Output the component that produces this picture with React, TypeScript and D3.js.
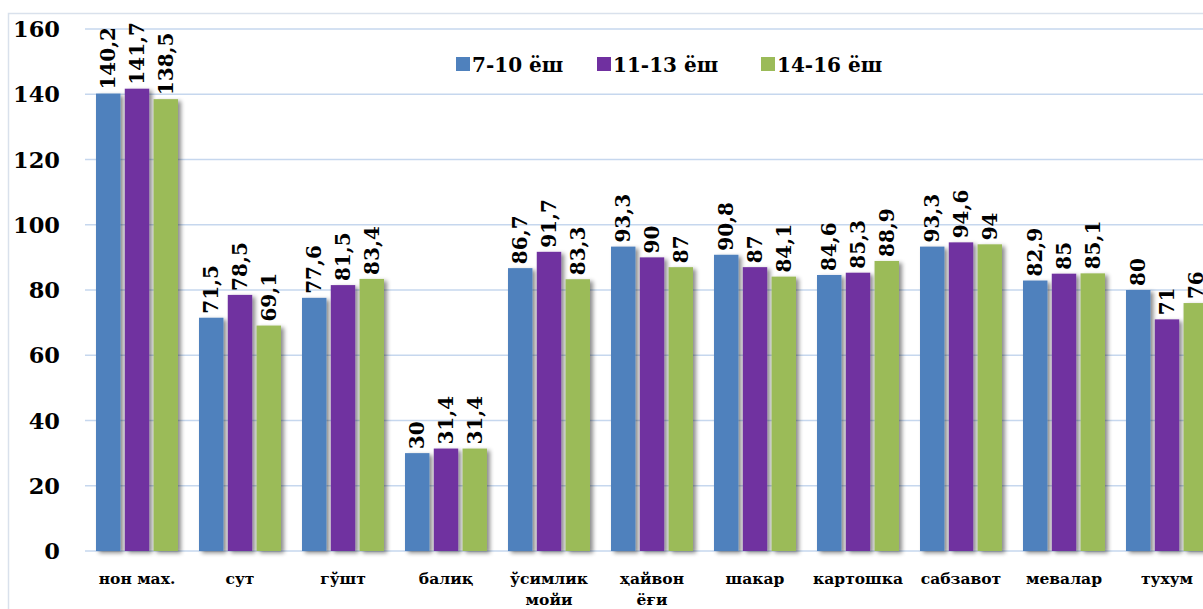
import * as d3 from 'd3';

const categories = [
  ['нон мах.'],
  ['сут'],
  ['гўшт'],
  ['балиқ'],
  ['ўсимлик', 'мойи'],
  ['ҳайвон', 'ёғи'],
  ['шакар'],
  ['картошка'],
  ['сабзавот'],
  ['мевалар'],
  ['тухум'],
];
const seriesNames = ['7-10 ёш', '11-13 ёш', '14-16 ёш'];
const seriesColors = ['#4f81bd', '#7030a0', '#9bbb59'];
const age7to10 = [140.2, 71.5, 77.6, 30, 86.7, 93.3, 90.8, 84.6, 93.3, 82.9, 80];
const age11to13 = [141.7, 78.5, 81.5, 31.4, 91.7, 90, 87, 85.3, 94.6, 85, 71];
const age14to16 = [138.5, 69.1, 83.4, 31.4, 83.3, 87, 84.1, 88.9, 94, 85.1, 76];
const yTicks = [0, 20, 40, 60, 80, 100, 120, 140, 160];

const series = [age7to10, age11to13, age14to16];
const W = 1203;
const H = 609;
const FONT = '"DejaVu Serif", serif';

export default function App() {
  const catKeys = categories.map((c) => c.join(' '));
  const x0 = d3.scaleBand().domain(catKeys).range([85.5, 85.5 + 103 * 11]).paddingInner(0.204).paddingOuter(0.102);
  const x1 = d3.scaleBand().domain(seriesNames).range([0, x0.bandwidth()]).paddingInner(0.15);
  const y = d3.scaleLinear().domain([0, 160]).range([551, 29]);
  const fmt = (v: number) => String(v).replace('.', ',');

  return (
    <svg width={W} height={H} style={{ position: 'absolute', left: 0, top: 0, background: '#fff' }} fontFamily={FONT}>
      <defs>
        <filter id="shadow" x="-20%" y="-5%" width="160%" height="115%">
          <feDropShadow dx="3" dy="2" stdDeviation="2" floodColor="#000" floodOpacity="0.45" />
        </filter>
      </defs>
      <rect x={8.5} y={13.5} width={W} height={H} fill="none" stroke="#d9e1ec" strokeWidth={1.5} />
      {yTicks.map((t) => (
        <g key={t}>
          <line x1={85} x2={W} y1={y(t)} y2={y(t)} stroke="#c6d7ee" strokeWidth={1.5} />
          <text x={60} y={y(t)} dy="0.36em" textAnchor="end" fontSize={22.5} fontWeight="bold" fill="#000">
            {t}
          </text>
        </g>
      ))}
      {catKeys.map((k, i) => (
        <g key={k} transform={`translate(${x0(k)},0)`}>
          {seriesNames.map((s, j) => {
            const v = series[j][i];
            const bx = x1(s)!;
            const cx = bx + x1.bandwidth() / 2;
            return (
              <g key={s}>
                <rect x={bx} y={y(v)} width={x1.bandwidth()} height={y(0) - y(v)} fill={seriesColors[j]} filter="url(#shadow)" />
                <text
                  transform={`translate(${cx},${y(v) - 4}) rotate(-90)`}
                  dy="0.36em"
                  fontSize={20}
                  fontWeight="bold"
                  fill="#000"
                >
                  {fmt(v)}
                </text>
              </g>
            );
          })}
          {categories[i].map((line, li) => (
            <text
              key={line}
              x={x0.bandwidth() / 2}
              y={584 + li * 21}
              textAnchor="middle"
              fontSize={15.5}
              fontWeight="bold"
              fill="#000"
            >
              {line}
            </text>
          ))}
        </g>
      ))}
      {seriesNames.map((s, j) => {
        const lx = [456, 597, 761][j];
        return (
          <g key={s}>
            <rect x={lx} y={57} width={14} height={14} fill={seriesColors[j]} />
            <text x={lx + 16} y={72} fontSize={20} fontWeight="bold" fill="#000">
              {s}
            </text>
          </g>
        );
      })}
    </svg>
  );
}
